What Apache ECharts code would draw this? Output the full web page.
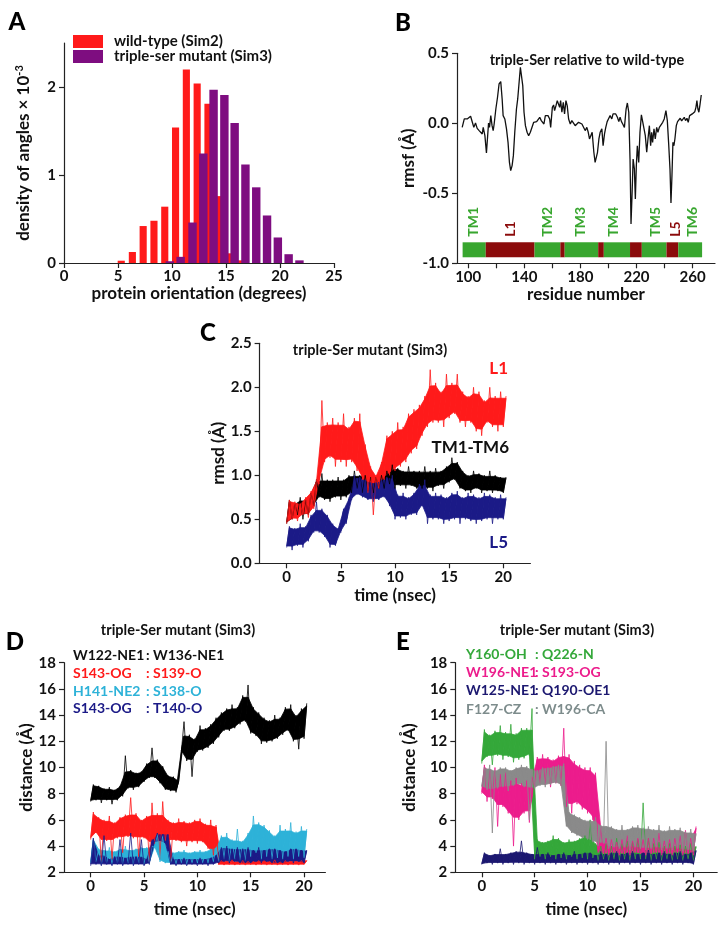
<!DOCTYPE html>
<html><head><meta charset="utf-8">
<script src="https://cdn.jsdelivr.net/npm/echarts@6/dist/echarts.min.js"></script>
<style>html,body{margin:0;padding:0;background:#fff}#c{width:726px;height:932px}</style>
</head><body><div id="c"></div>
<script>
// ---------- Panel A: histogram of protein orientation ----------
const angleRedCenters = [5.3,6.33,7.33,8.33,9.33,10.33,11.33,12.33,13.33,14.33,15.33,16.33];
const angleRedDensity = [0.026,0.125,0.42,0.48,0.64,1.54,2.2,2.04,1.81,0.76,0.11,0.03];
const anglePurpleCenters = [9.8,10.8,11.9,12.9,13.85,14.85,15.8,16.8,17.8,18.8,19.8,20.8,21.8];
const anglePurpleDensity = [0.02,0.07,0.46,1.245,1.97,1.91,1.59,1.12,0.86,0.54,0.29,0.1,0.03];
const angleXTicks = [0,5,10,15,20,25];
const angleYTicks = [0,1,2];

// ---------- Panel B: rmsf difference ----------
const resB = [95.7,97.2,98.3,99.3,100.5,101.7,102.4,103.1,104,105.2,
106.4,107.8,109,110,110.7,111.9,113,113.7,114.5,115.2,
116.1,117,117.8,118.5,119.7,120.9,122,123.2,124.2,124.9,
126.1,127.3,128.4,129.4,130.3,131.3,132.2,133.2,134.4,135.3,
136.3,137.2,138.2,138.9,139.8,140.8,142,143.1,144.3,145.5,
146.7,147.9,148.8,150,151,152.1,153.1,154,155,155.7,
156.9,158.1,158.8,160,160.9,161.6,162.6,163.5,164.2,165.2,
165.9,166.8,167.8,168.7,169.7,170.6,171.6,172.8,173.9,175.1,
176.3,177.5,178.7,179.9,181.1,182.2,183.4,184.6,185.6,186.5,
187.5,188.4,189.6,190.5,191.3,192.2,193.2,194.1,195.3,196.2,
197.2,198.1,199.1,200,201.2,202.4,203.3,204.3,205.2,206.4,
207.4,208.3,209.3,210.2,211.4,212.6,213.5,214.5,215.4,216.1,
216.9,217.6,218.5,219.2,219.9,220.6,221.6,222.5,223.5,224.4,
225.4,226.3,227.3,228.2,229.2,230.1,230.8,231.5,232.5,233.4,
234.4,235.3,236.3,237.5,238.7,239.8,241,242,242.9,243.9,
244.6,245.3,246,246.7,247.4,248.4,249.3,250.3,251.2,252.2,
253.1,254.1,255,256,256.9,257.9,258.8,259.8,260.7,261.6,
262.4,263.1,263.8,264.5,265.2,266.2];
const rmsfB = [-0.029,0.031,0.043,0.031,0.026,0.05,0.043,0.002,-0.029,0.002,
-0.036,-0.052,-0.06,-0.076,-0.029,-0.088,-0.212,-0.219,0.002,-0.029,
0.055,-0.017,-0.052,-0.005,0.102,0.186,0.281,0.298,0.174,0.055,
0.031,-0.04,-0.136,-0.279,-0.338,-0.302,-0.231,-0.064,0.102,0.174,
0.293,0.4,0.388,0.269,0.079,-0.017,-0.064,-0.088,-0.064,-0.052,
0.007,-0.005,0.012,0.002,0.043,0.019,0.031,-0.005,0.055,0.043,
0.055,0.031,-0.029,0.114,0.131,0.09,0.126,0.162,0.174,0.114,
0.162,0.079,0.15,0.067,0.162,0.126,0.031,-0.005,0.019,0.007,
-0.017,-0.005,0.007,-0.005,-0.005,-0.017,-0.052,-0.029,-0.064,-0.112,
-0.1,-0.064,-0.207,-0.279,-0.29,-0.207,-0.112,-0.064,-0.04,-0.16,
-0.076,-0.029,0.012,0.031,0.055,0.031,0.067,0.074,0.067,0.043,
0.012,0.043,0.012,-0.005,-0.029,0.102,0.145,0.079,-0.255,-0.719,
-0.493,-0.255,-0.326,-0.54,-0.302,-0.16,-0.279,-0.064,0.06,0.05,
-0.04,-0.088,-0.207,-0.112,-0.017,-0.16,-0.064,-0.136,-0.04,-0.112,
-0.029,-0.064,-0.029,-0.017,0.007,0.031,0.09,0.019,-0.136,-0.326,
-0.569,-0.374,-0.136,-0.16,-0.112,-0.017,0.012,0.019,0.036,0.017,
0.031,0.043,0.019,0.036,0.007,0.055,0.043,0.067,0.055,0.083,
0.114,0.162,0.102,0.079,0.126,0.202];
const segStart = [96,112.5,147.3,165.7,168.8,192.7,196.7,215.4,223.8,241.4,249.8];
const segEnd   = [112.5,147.3,165.7,168.8,192.7,196.7,215.4,223.8,241.4,249.8,266.8];
const segKind  = ['TM','L','TM','L','TM','L','TM','L','TM','L','TM'];
const domainNames = ['TM1','L1','TM2','TM3','TM4','TM5','L5','TM6'];
const domainPos   = [103.6,129.9,156.2,180,203.9,233.7,248,260];
const domainKind  = ['TM','L','TM','TM','TM','TM','L','TM'];
const resXTicks = [100,120,140,160,180,200,220,240,260];
const resXLabels = [100,140,180,220,260];
const rmsfYTicks = [-1,-0.5,0,0.5];

// ---------- time traces: alternating (low, high) samples every 0.25 ns ----------
const timeStep = 0.25;
const timeTicks = [0,5,10,15,20];
// Panel C (rmsd)
const rmsdL1 = [0.45,0.72,0.5,0.7, 0.48,0.68,0.55,0.75, 0.52,0.82,0.62,0.95, 0.9,1.85,1.15,1.6, 1.2,1.65,1.1,1.6, 1.15,1.7,1.1,1.55, 1.15,1.65,1.05,1.7, 0.95,1.35,0.8,1.1, 0.55,1.0,0.85,1.15, 0.95,1.45,1.0,1.5, 1.05,1.6,1.1,1.55, 1.15,1.7,1.25,1.75, 1.3,1.8,1.45,1.9, 1.55,2.2,1.6,2.05, 1.6,1.95,1.55,2.15, 1.65,2.05,1.7,2.15, 1.6,1.95,1.55,1.9, 1.6,2.0,1.5,1.95, 1.45,1.85,1.6,2.0, 1.55,1.9,1.5,1.95, 1.55,1.9];
const rmsdTM = [0.45,0.72,0.5,0.68, 0.55,0.75,0.5,0.72, 0.55,0.8,0.65,0.95, 0.75,1.02,0.72,0.95, 0.7,0.95,0.75,0.98, 0.72,0.95,0.75,1.0, 0.8,1.05,0.85,1.0, 0.8,1.0,0.82,0.98, 0.8,0.98,0.85,1.0, 0.85,1.05,0.9,1.12, 0.85,1.08,0.88,1.05, 0.85,1.1,0.88,1.05, 0.85,1.05,0.85,1.1, 0.85,1.05,0.82,1.08, 0.88,1.05,0.85,1.1, 0.92,1.2,0.95,1.15, 0.85,1.05,0.82,1.0, 0.8,1.05,0.85,1.02, 0.8,1.0,0.82,1.05, 0.8,1.0,0.82,0.98, 0.8,0.98];
const rmsdL5 = [0.18,0.42,0.15,0.4, 0.2,0.45,0.18,0.42, 0.25,0.55,0.35,0.7, 0.35,0.62,0.3,0.55, 0.18,0.45,0.2,0.4, 0.35,0.62,0.45,0.75, 0.72,1.0,0.78,0.98, 0.75,0.95,0.72,0.92, 0.7,0.92,0.72,0.95, 0.75,0.98,0.65,1.0, 0.5,0.78,0.52,0.8, 0.5,0.75,0.55,0.8, 0.55,0.9,0.65,0.95, 0.45,0.78,0.5,0.8, 0.5,0.78,0.45,0.75, 0.48,0.8,0.5,0.82, 0.45,0.75,0.5,0.8, 0.48,0.78,0.45,0.75, 0.48,0.8,0.5,0.78, 0.45,0.75,0.5,0.78, 0.5,0.75];
// Panel D (distances)
const dW122W136 = [7.4,8.7,7.5,8.6, 7.3,8.4,7.5,8.5, 7.2,8.3,7.5,8.6, 7.8,10.9,8.4,9.8, 8.3,9.6,8.5,9.7, 8.9,10.3,9.2,11.5, 9.2,10.6,8.8,10.1, 8.3,9.4,8.2,9.3, 8.1,9.0,11.2,13.5, 10.5,12.5,9.3,12.2, 11.2,13.2,11.3,13.0, 11.5,13.3,11.8,13.8, 12.3,14.2,12.8,14.5, 12.8,14.8,13.0,14.6, 13.3,15.5,13.5,16.3, 12.6,14.6,12.4,14.2, 11.8,13.8,11.9,13.6, 12.0,14.0,12.2,13.8, 12.5,14.6,12.8,14.8, 12.0,14.0,11.4,14.5, 12.2,14.9];
const dS143S139 = [4.5,6.6,5.0,6.2, 2.8,6.0,4.4,6.3, 3.0,5.8,4.6,6.2, 3.5,6.4,4.7,7.7, 4.6,6.5,3.2,6.0, 4.6,6.3,2.8,7.3, 4.2,6.5,3.0,7.4, 4.4,6.0,2.8,5.8, 4.4,6.1,4.3,5.9, 4.0,5.8,4.3,6.0, 4.2,6.1,4.3,5.7, 3.8,6.0,3.3,5.6, 2.6,2.9,2.55,2.85, 2.6,2.95,2.55,2.8, 2.6,2.9,2.55,2.85, 2.6,2.85,2.55,2.9, 2.6,2.9,2.55,2.85, 2.6,2.95,2.55,2.8, 2.6,2.9,2.55,2.85, 2.6,2.85,2.55,2.9, 2.6,2.9];
const dH141S138 = [2.7,4.6,2.8,3.8, 2.6,3.7,2.7,3.9, 2.6,3.6,2.7,3.8, 2.6,4.0,2.7,3.7, 2.6,3.8,2.7,3.9, 2.6,3.9,2.7,4.0, 3.9,4.9,2.8,4.8, 2.7,3.6,2.7,3.5, 2.6,3.6,2.7,3.7, 2.6,3.5,2.7,3.6, 2.7,3.7,2.7,3.6, 2.7,3.8,2.8,3.9, 2.8,4.8,3.0,5.0, 2.8,4.5,3.0,5.3, 2.9,4.4,2.9,5.0, 3.2,6.3,3.5,5.8, 3.0,5.6,3.2,5.2, 3.0,4.8,3.1,5.6, 3.0,5.3,3.2,5.8, 3.0,5.1,3.2,5.5, 3.1,5.3];
const dS143T140 = [2.5,4.6,2.6,3.3, 2.5,4.8,2.6,3.0, 2.5,3.2,2.6,4.5, 2.5,3.1,2.6,5.0, 2.5,3.2,2.6,4.5, 2.5,3.0,2.6,4.5, 4.3,5.0,4.4,4.9, 4.2,4.9,2.6,3.0, 2.5,3.0,2.6,3.1, 2.5,3.0,2.6,3.0, 2.5,3.1,2.6,3.0, 2.5,3.1,2.6,3.3, 2.7,3.9,2.8,4.0, 2.7,3.8,2.8,3.9, 2.7,3.8,2.7,3.9, 2.7,3.7,2.8,3.9, 2.7,3.7,2.8,3.8, 2.7,3.8,2.7,3.7, 2.7,3.6,2.8,3.8, 2.7,3.8,2.8,3.7, 2.7,3.7];
// Panel E (distances)
const eY160Q226 = [10.3,12.9,10.8,12.5, 10.2,12.8,10.9,13.2, 10.6,12.7,10.8,13.3, 10.4,12.6,10.6,13.0, 10.7,13.0,10.9,14.5, 3.0,4.5,3.2,4.3, 3.0,4.4,3.2,4.8, 3.0,4.6,3.1,4.3, 3.0,4.5,3.2,4.4, 3.0,4.6,3.1,4.8, 3.0,6.0,3.1,4.2, 2.9,4.0,3.0,4.2, 2.9,4.0,3.0,4.6, 2.9,4.2,3.0,4.4, 2.9,4.3,3.0,4.5, 3.0,7.3,3.0,4.6, 2.9,4.2,3.0,4.3, 2.9,4.0,3.0,4.2, 2.9,4.0,3.0,4.1, 2.9,4.0,3.0,4.2, 2.9,4.0];
const eW196S193 = [8.0,10.2,7.4,9.8, 7.6,10.0,5.5,9.5, 7.0,9.6,6.5,9.0, 4.0,9.2,6.0,8.8, 6.5,9.0,5.8,9.3, 8.5,10.8,8.8,11.0, 8.7,10.8,8.5,10.6, 8.8,10.9,8.6,13.0, 7.0,11.0,6.5,10.5, 7.2,10.2,6.8,10.0, 6.5,10.0,6.0,9.6, 3.5,5.5,3.4,4.6, 3.3,4.5,3.5,4.3, 3.3,4.5,3.4,4.8, 3.3,4.4,3.5,4.6, 3.4,4.5,3.3,4.6, 3.4,4.6,3.5,5.0, 3.3,4.4,3.4,4.5, 3.3,4.6,3.5,4.8, 3.3,5.2,3.4,4.6, 3.3,5.5];
const eW125Q190 = [2.6,3.5,2.7,3.3, 2.6,3.4,2.7,3.8, 2.6,3.4,2.7,3.5, 2.6,3.6,2.7,4.4, 2.6,3.5,2.7,3.4, 2.6,3.9,2.7,3.4, 2.6,3.5,2.7,3.3, 2.6,3.4,2.7,3.5, 2.6,3.3,2.7,3.6, 2.6,3.4,2.7,3.5, 2.6,3.5,2.7,3.3, 2.6,3.6,2.7,3.4, 2.6,3.5,2.7,3.6, 2.6,3.4,2.7,3.5, 2.6,3.6,2.7,3.4, 2.6,3.5,2.7,3.7, 2.6,3.4,2.7,3.5, 2.6,3.6,2.7,3.4, 2.6,3.5,2.7,3.6, 2.6,3.4,2.7,3.5, 2.6,3.7];
const eF127W196 = [8.5,10.0,8.3,10.2, 5.0,9.8,8.4,10.0, 8.5,10.0,8.2,9.8, 8.6,10.0,8.7,10.2, 8.5,10.1,6.0,9.9, 8.4,9.8,8.6,10.0, 8.5,10.0,8.7,10.1, 8.8,10.2,8.6,10.3, 5.5,6.6,5.0,6.4, 4.8,6.2,4.6,6.0, 4.5,6.0,4.3,6.2, 4.0,5.6,4.2,12.0, 3.8,5.5,3.9,5.3, 3.8,5.6,3.9,5.3, 3.7,5.5,3.9,5.6, 3.8,5.4,3.7,5.5, 3.8,5.3,3.9,5.6, 3.7,5.2,3.8,5.5, 3.7,5.3,3.8,5.4, 3.6,5.1,3.7,5.3, 3.6,5.0];
const distYTicks = [2,4,6,8,10,12,14,16,18];

// ---------- styling ----------
const F = 'Lato, "Open Sans", sans-serif';
const AX = '#222';
const RED = '#ff1a1a', PURPLE = '#7e0d80', GREEN = '#38a62f', DARKRED = '#8b0b0b';
const NAVY = '#1b1a87', TEAL = '#2db2d8', GREEN2 = '#34a83a', PINK = '#ec1c8c', NAVY2 = '#1c1870', GRAY = '#8a8a8a';

function baseAxis(o) {
  return Object.assign({
    type: 'value',
    axisLine: {show: true, onZero: false, lineStyle: {color: AX, width: 1.2}},
    splitLine: {show: false},
    nameLocation: 'middle',
    nameTextStyle: {fontFamily: F, fontWeight: 'bold', fontSize: 17, color: '#111'}
  }, o);
}
function xAx(gi, min, max, ticks, labels, name, gap) {
  return baseAxis({gridIndex: gi, min, max, name, nameGap: gap,
    axisTick: {show: true, length: 5, customValues: ticks, lineStyle: {color: AX, width: 1.2}},
    axisLabel: {customValues: labels, fontFamily: F, fontWeight: 'bold', fontSize: 15, color: '#111', margin: 6}});
}
function yAx(gi, min, max, ticks, name, gap, dec, extra) {
  return baseAxis(Object.assign({gridIndex: gi, min, max, name, nameGap: gap,
    axisTick: {show: true, length: 5, customValues: ticks, lineStyle: {color: AX, width: 1.2}},
    axisLabel: {customValues: ticks, fontFamily: F, fontWeight: 'bold', fontSize: 15, color: '#111', margin: 8,
      formatter: v => dec ? v.toFixed(1) : String(v)}}, extra || {}));
}
// Noisy trace: a dense core band (isolated spikes removed, slightly inset) plus the raw zig-zag samples on top.
function trace(name, vals, gi, color) {
  const n = Math.floor(vals.length / 2);
  const lo = [], hi = [];
  for (let k = 0; k < n; k++) { lo.push(vals[2 * k]); hi.push(vals[2 * k + 1]); }
  const cLo = [], cHi = [];
  for (let k = 0; k < n; k++) {
    const pl = lo[Math.max(0, k - 1)], nl = lo[Math.min(n - 1, k + 1)];
    const ph = hi[Math.max(0, k - 1)], nh = hi[Math.min(n - 1, k + 1)];
    const l = Math.max(lo[k], Math.min(pl, nl)), h = Math.min(hi[k], Math.max(ph, nh));
    const a = Math.min(l, h), b = Math.max(l, h), inset = 0.07 * (b - a);
    cLo.push(a + inset); cHi.push(b - inset);
  }
  const coreData = lo.map((v, k) => [2 * k * timeStep, v, (2 * k + 1) * timeStep, hi[k]]);
  const core = {type: 'custom', name, xAxisIndex: gi, yAxisIndex: gi, data: coreData, encode: {x: [0, 2], y: [1, 3]},
    silent: true, itemStyle: {color},
    renderItem: (p, api) => {
      const k = p.dataIndex;
      if (k >= n - 1) return null;
      const t0 = api.value(0), t1 = api.value(2), t2 = coreData[k + 1][0], t3 = coreData[k + 1][2];
      const pts = [api.coord([t0, cLo[k]]), api.coord([t1, cHi[k]]), api.coord([t3, cHi[k + 1]]), api.coord([t2, cLo[k + 1]])];
      return {type: 'polygon', shape: {points: pts}, style: {fill: color, stroke: color, lineWidth: 0.8}};
    }};
  const line = {type: 'line', name, xAxisIndex: gi, yAxisIndex: gi, symbol: 'none', showSymbol: false, silent: true,
    data: vals.map((v, i) => [i * timeStep, v]),
    lineStyle: {color, width: 1, opacity: 0.8}, itemStyle: {color}};
  return [core, line];
}
function barSeries(name, centers, vals, width, color) {
  return {type: 'custom', name, xAxisIndex: 0, yAxisIndex: 0, itemStyle: {color},
    data: centers.map((c, i) => [c, vals[i]]), encode: {x: 0, y: 1},
    renderItem: (p, api) => {
      const c = api.value(0), h = api.value(1);
      const a = api.coord([c - width / 2, h]), b = api.coord([c + width / 2, 0]);
      return {type: 'rect', shape: {x: a[0], y: a[1], width: b[0] - a[0], height: b[1] - a[1]}, style: {fill: color}};
    }};
}
function txt(text, x, y, size, color, align, weight) {
  return {type: 'text', x, y, silent: true, style: {text, fill: color || '#111', align: align || 'left', verticalAlign: 'middle',
    font: (weight || 'bold') + ' ' + size + 'px ' + F}};
}

const grids = [
  {left: 64, top: 43, width: 270, height: 220},
  {left: 457, top: 53.3, width: 258, height: 210},
  {left: 259.6, top: 343.3, width: 270.8, height: 220},
  {left: 64, top: 662.7, width: 261.4, height: 209.6},
  {left: 455.3, top: 662.7, width: 261.9, height: 209.6}
].map(g => Object.assign({containLabel: false, outerBoundsMode: 'none'}, g));

const option = {
  animation: false,
  backgroundColor: '#fff',
  grid: grids,
  legend: {data: ['wild-type (Sim2)', 'triple-ser mutant (Sim3)'], orient: 'vertical', left: 73, top: 34, padding: 0,
    itemWidth: 30, itemHeight: 13, itemGap: 0, icon: 'rect', selectedMode: false,
    textStyle: {fontFamily: F, fontWeight: 'bold', fontSize: 15, color: '#111', padding: [0, 0, 0, 6]}},
  xAxis: [
    xAx(0, 0, 25, angleXTicks, angleXTicks, 'protein orientation (degrees)', 20),
    xAx(1, 92, 276, resXTicks, resXLabels, 'residue number', 23),
    xAx(2, -2.5, 22.5, timeTicks, timeTicks, 'time (nsec)', 24),
    xAx(3, -2.5, 22, timeTicks, timeTicks, 'time (nsec)', 29),
    xAx(4, -2.5, 22.25, timeTicks, timeTicks, 'time (nsec)', 29)
  ],
  yAxis: [
    yAx(0, 0, 2.5, angleYTicks, 'density of angles \u00d7 10{sup|-3}', 31, false,
      {nameTextStyle: {fontFamily: F, fontWeight: 'bold', fontSize: 17, color: '#111',
        rich: {sup: {fontFamily: F, fontWeight: 'bold', fontSize: 11, color: '#111', verticalAlign: 'top', padding: [0, 0, 8, 0]}}}}),
    yAx(1, -1, 0.5, rmsfYTicks, 'rmsf (\u00c5)', 40, true),
    yAx(2, 0, 2.5, [0, 0.5, 1, 1.5, 2, 2.5], 'rmsd (\u00c5)', 33, true),
    yAx(3, 2, 18, distYTicks, 'distance (\u00c5)', 28, false),
    yAx(4, 2, 18, distYTicks, 'distance (\u00c5)', 37, false)
  ],
  series: [
    barSeries('wild-type (Sim2)', angleRedCenters, angleRedDensity, 0.66, RED),
    barSeries('triple-ser mutant (Sim3)', anglePurpleCenters, anglePurpleDensity, 0.78, PURPLE),
    {type: 'line', name: 'rmsf', xAxisIndex: 1, yAxisIndex: 1, symbol: 'none', data: resB.map((r, i) => [r, rmsfB[i]]),
      lineStyle: {color: '#111', width: 1.3}, itemStyle: {color: '#111'}},
    {type: 'custom', name: 'domains', xAxisIndex: 1, yAxisIndex: 1, data: segStart.map((s, i) => [s, segEnd[i], segKind[i] === 'TM' ? 0 : 1]),
      encode: {x: [0, 1]},
      renderItem: (p, api) => {
        const a = api.coord([api.value(0), -0.85]), b = api.coord([api.value(1), -0.957]);
        return {type: 'rect', shape: {x: a[0], y: a[1], width: b[0] - a[0], height: b[1] - a[1]},
          style: {fill: api.value(2) === 0 ? GREEN : DARKRED}};
      }},
    {type: 'custom', name: 'domainLabels', xAxisIndex: 1, yAxisIndex: 1, data: domainPos.map((p, i) => [p, i]),
      encode: {x: 0},
      renderItem: (p, api) => {
        const i = api.value(1);
        const pt = api.coord([api.value(0), -0.81]);
        return {type: 'text', x: pt[0], y: pt[1], rotation: Math.PI / 2,
          style: {text: domainNames[i], fill: domainKind[i] === 'TM' ? GREEN : DARKRED, align: 'left', verticalAlign: 'middle',
            font: 'bold 14px ' + F}};
      }},
    ...trace('TM1-TM6', rmsdTM, 2, '#000'),
    ...trace('L1', rmsdL1, 2, RED),
    ...trace('L5', rmsdL5, 2, NAVY),
    ...trace('W122-NE1 : W136-NE1', dW122W136, 3, '#000'),
    ...trace('S143-OG : S139-O', dS143S139, 3, RED),
    ...trace('H141-NE2 : S138-O', dH141S138, 3, TEAL),
    ...trace('S143-OG : T140-O', dS143T140, 3, NAVY),
    ...trace('Y160-OH : Q226-N', eY160Q226, 4, GREEN2),
    ...trace('W196-NE1 : S193-OG', eW196S193, 4, PINK),
    ...trace('F127-CZ : W196-CA', eF127W196, 4, GRAY),
    ...trace('W125-NE1 : Q190-OE1', eW125Q190, 4, NAVY2)
  ],
  graphic: [
    txt('A', 17, 22, 24, '#000', 'center', '900'),
    txt('B', 403, 23, 24, '#000', 'center', '900'),
    txt('C', 208, 333, 24, '#000', 'center', '900'),
    txt('D', 15, 642, 24, '#000', 'center', '900'),
    txt('E', 403, 642, 24, '#000', 'center', '900'),
    txt('triple-Ser relative to wild-type', 587, 60, 14.5, '#111', 'center'),
    txt('triple-Ser mutant (Sim3)', 370, 350, 14.5, '#111', 'center'),
    txt('triple-Ser mutant (Sim3)', 178, 630, 14.5, '#111', 'center'),
    txt('triple-Ser mutant (Sim3)', 577, 630, 14.5, '#111', 'center'),
    txt('L1', 508, 369, 17, RED, 'right'),
    txt('TM1-TM6', 509, 448, 17, '#111', 'right'),
    txt('L5', 508, 543, 17, NAVY, 'right'),
    txt('W122-NE1', 73, 655, 14, '#111'), txt(': W136-NE1', 146, 655, 14, '#111'),
    txt('S143-OG', 73, 673, 14, RED), txt(': S139-O', 146, 673, 14, RED),
    txt('H141-NE2', 73, 691, 14, TEAL), txt(': S138-O', 146, 691, 14, TEAL),
    txt('S143-OG', 73, 708.5, 14, NAVY), txt(': T140-O', 146, 708.5, 14, NAVY),
    txt('Y160-OH', 466, 654, 14, GREEN2), txt(': Q226-N', 535, 654, 14, GREEN2),
    txt('W196-NE1', 466, 672.3, 14, PINK), txt(': S193-OG', 535, 672.3, 14, PINK),
    txt('W125-NE1', 466, 690.7, 14, NAVY2), txt(': Q190-OE1', 535, 690.7, 14, NAVY2),
    txt('F127-CZ', 466, 709.3, 14, '#7d8c8c'), txt(': W196-CA', 535, 709.3, 14, '#7d8c8c')
  ]
};
const chart = echarts.init(document.getElementById('c'), null, {renderer: 'canvas', width: 726, height: 932});
chart.setOption(option);
</script></body></html>
